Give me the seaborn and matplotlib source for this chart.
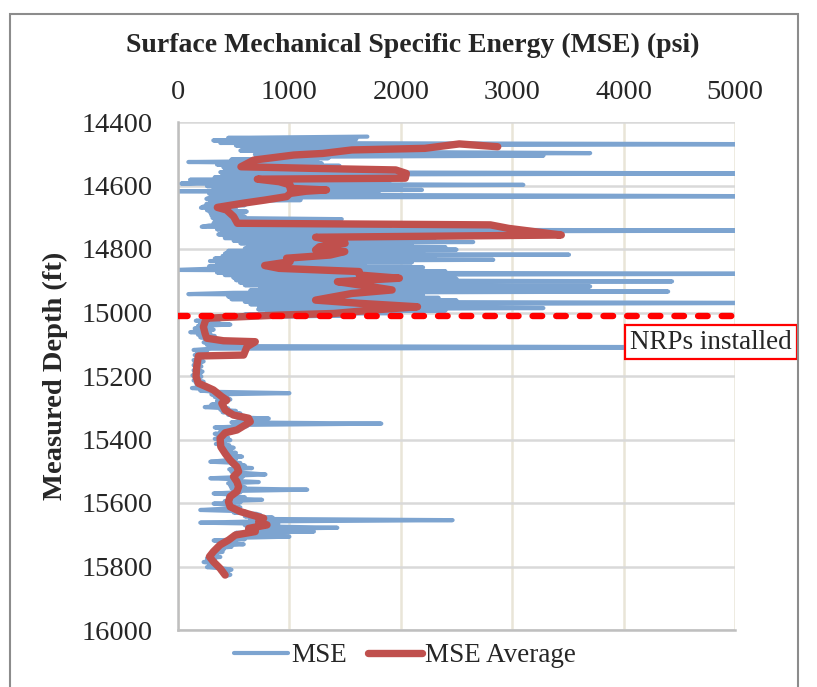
import numpy as np
import pandas as pd
import seaborn as sns
import matplotlib.pyplot as plt
from matplotlib.patches import Rectangle

# MSE readings, upper section (dense zone above the NRPs), every 4 ft
upper_depth = np.arange(14446, 15011, 4)
upper_mse = [
    1700, 450, 1600, 317, 1450, 380, 5600, 520, 1750, 600,
    1500, 560, 1650, 3700, 690, 3280, 700, 1350, 480, 1250,
    93, 1290, 350, 1450, 407, 1600, 420, 1750, 380, 5600,
    400, 1850, 330, 1700, 108, 1900, 300, 27, 3100, 260,
    2000, 320, 2190, 0, 1800, 280, 1700, 5600, 300, 255,
    1100, 290, 480, 255, 600, 230, 206, 520, 260, 617,
    290, 560, 300, 600, 310, 1470, 330, 700, 320, 1600,
    280, 213, 1900, 350, 5600, 400, 2100, 362, 3050, 420,
    422, 2300, 500, 2650, 560, 2100, 632, 2400, 600, 2500,
    450, 2200, 422, 3510, 400, 2300, 330, 2830, 287, 2100,
    350, 1675, 280, 2200, 300, 3, 2400, 350, 5600, 420,
    2300, 497, 2500, 520, 4435, 557, 2400, 600, 3700, 737,
    2300, 650, 4400, 500, 93, 2200, 452, 2340, 480, 2500,
    600, 5600, 650, 2600, 730, 3280, 720, 2400, 800, 2000,
    600, 1500,
]

# MSE readings, lower section (after NRPs installed), every 4 ft
lower_depth = np.arange(15014, 15831, 4)
lower_mse = [
    700, 240, 380, 160, 300, 200, 470, 180, 280, 150,
    320, 210, 110, 290, 180, 330, 200, 280, 250, 350,
    230, 420, 260, 700, 5600, 300, 140, 260, 170, 240,
    150, 220, 170, 190, 140, 230, 150, 200, 140, 210,
    160, 190, 140, 220, 150, 200, 130, 210, 150, 190,
    140, 230, 160, 200, 170, 240, 125, 280, 200, 350,
    1000, 300, 420, 330, 450, 470, 350, 440, 380, 300,
    400, 240, 450, 380, 520, 400, 560, 450, 600, 520,
    815, 550, 700, 480, 1825, 560, 620, 330, 500, 450,
    380, 480, 330, 420, 360, 450, 330, 470, 380, 420,
    340, 460, 380, 500, 400, 470, 420, 520, 430, 480,
    575, 450, 520, 420, 290, 560, 480, 600, 500, 665,
    460, 560, 480, 620, 785, 500, 580, 290, 560, 480,
    725, 450, 560, 470, 600, 480, 1160, 500, 560, 320,
    520, 450, 600, 480, 755, 420, 560, 320, 500, 450,
    560, 420, 200, 600, 500, 700, 740, 600, 850, 650,
    2465, 700, 200, 900, 600, 800, 1430, 650, 750, 1220,
    520, 700, 500, 1000, 480, 600, 320, 520, 450, 590,
    380, 480, 350, 410, 320, 400, 300, 350, 280, 380,
    260, 330, 290, 230, 320, 280, 350, 260, 400, 480,
    380, 450, 400, 470, 430,
]

# MSE Average trace (depth, psi)
avg_depth = [
    14478, 14469, 14483, 14488, 14499, 14504, 14520, 14541, 14546, 14551,
    14562, 14577, 14580, 14588, 14598, 14609, 14614, 14618, 14625, 14635,
    14646, 14656, 14669, 14677, 14698, 14719, 14724, 14735, 14756, 14763,
    14772, 14782, 14793, 14803, 14808, 14819, 14829, 14840, 14852, 14861,
    14871, 14882, 14892, 14903, 14913, 14929, 14940, 14961, 14971, 14982,
    14992, 15003, 15008, 15018, 15029, 15045, 15066, 15081, 15089, 15092,
    15108, 15134, 15137, 15171, 15202, 15223, 15232, 15244, 15265, 15276,
    15286, 15307, 15323, 15333, 15344, 15354, 15370, 15379, 15396, 15423,
    15444, 15465, 15486, 15501, 15517, 15533, 15549, 15564, 15580, 15596,
    15612, 15627, 15638, 15648, 15659, 15669, 15680, 15690, 15701, 15717,
    15732, 15753, 15769, 15785, 15806, 15827,
]
avg_mse = [
    2870, 2525, 2215, 1560, 1300, 1040, 680, 565, 1200, 1955,
    2050, 2040, 712, 908, 1006, 1006, 1333, 1150, 1006, 975,
    778, 580, 353, 435, 500, 533, 2804, 2967, 3441, 1235,
    1366, 1500, 1268, 1235, 1497, 1366, 975, 1006, 778, 908,
    1627, 1627, 1987, 1431, 1627, 1922, 1562, 1235, 1627, 2150,
    1758, 1400, 919, 258, 243, 228, 243, 258, 408, 694,
    619, 589, 183, 168, 162, 183, 243, 318, 393, 438,
    393, 423, 498, 634, 649, 604, 529, 423, 378, 384,
    423, 468, 529, 544, 498, 529, 544, 529, 468, 453,
    468, 559, 664, 769, 724, 799, 634, 694, 514, 453,
    378, 318, 282, 318, 378, 423,
]

nrp_depth = 15011
x_ticks = [0, 1000, 2000, 3000, 4000, 5000]
y_ticks = list(range(14400, 16001, 200))

BLUE = "#7DA4D0"
RED = "#C0504D"

sns.set_style("white")
plt.rcParams["font.family"] = ["Liberation Serif", "DejaVu Serif"]

df_mse = pd.DataFrame({
    "depth": np.concatenate([upper_depth, lower_depth]),
    "mse": upper_mse + lower_mse,
})
df_avg = pd.DataFrame({"depth": avg_depth, "mse": avg_mse})

fig = plt.figure(figsize=(8.17, 6.87), dpi=100)
ax = fig.add_axes([178 / 817, 1 - 630 / 687, 557 / 817, 508 / 687])

sns.lineplot(data=df_mse, x="mse", y="depth", sort=False, estimator=None,
             color=BLUE, lw=3.0, ax=ax, label="MSE")
sns.lineplot(data=df_avg, x="mse", y="depth", sort=False, estimator=None,
             color=RED, lw=5.3, ax=ax, label="MSE Average",
             solid_capstyle="round", solid_joinstyle="round")

ax.axhline(nrp_depth, color="#FF0000", lw=4.6, dashes=(1.5, 2.2),
           dash_capstyle="round", zorder=5)

ax.set_xlim(0, 5000)
ax.set_ylim(16000, 14400)
ax.set_xticks(x_ticks)
ax.set_yticks(y_ticks)
ax.xaxis.tick_top()
ax.tick_params(axis="both", length=0, labelsize=20.5)
ax.tick_params(axis="x", pad=12)
ax.tick_params(axis="y", pad=18)

# Excel-style grid: beige verticals, grey horizontals
ax.xaxis.grid(True, color="#E9E5D8", lw=1.8)
ax.yaxis.grid(True, color="#D9D9D9", lw=1.8)
ax.set_axisbelow(True)
for side in ["top", "right"]:
    ax.spines[side].set_visible(False)
for side in ["left", "bottom"]:
    ax.spines[side].set_color("#BFBFBF")
    ax.spines[side].set_linewidth(1.8)

ax.set_xlabel("")
fig.text(413 / 817, 1 - 45 / 687, "Surface Mechanical Specific Energy (MSE) (psi)",
         fontsize=20, fontweight="bold", ha="center", va="center")
ax.set_ylabel("Measured Depth (ft)", fontsize=20.5, fontweight="bold", labelpad=10)

ax.text(4785, 15093, "NRPs installed", fontsize=19.5, ha="center", va="center",
        clip_on=False, zorder=6,
        bbox=dict(boxstyle="square,pad=0.18", fc="white", ec="#FF0000", lw=1.6))

ax.legend(loc="center", bbox_to_anchor=(405 / 817, 1 - 656 / 687),
          bbox_transform=fig.transFigure, ncol=2, frameon=False, fontsize=19.5,
          handlelength=2.0, handletextpad=0.1, columnspacing=0.8,
          borderaxespad=0)

fig.patches.append(Rectangle((10 / 817, -0.05), 788 / 817, 1.05 - 14 / 687,
                             transform=fig.transFigure, fill=False,
                             ec="#8C8C8C", lw=1.5))

fig.savefig("out.png", dpi=100)
